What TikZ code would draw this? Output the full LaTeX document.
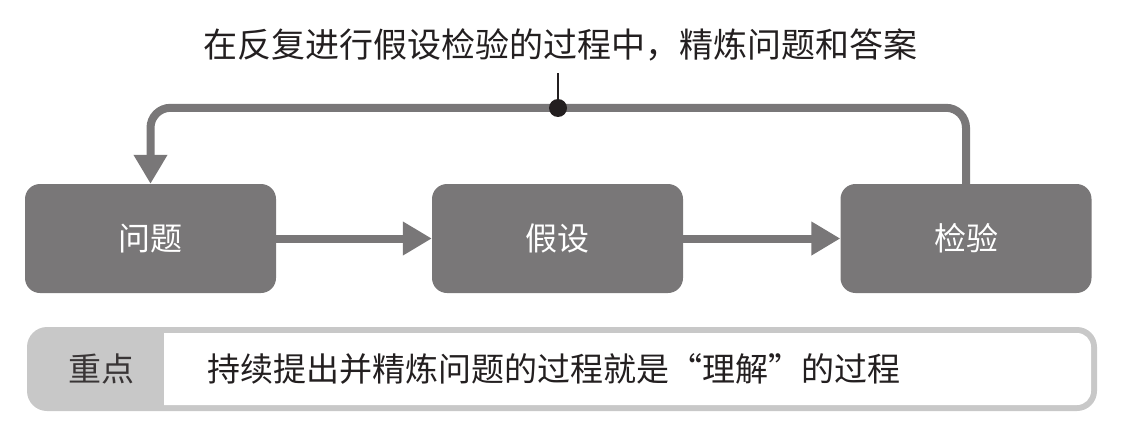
\documentclass[tikz,border=0pt]{standalone}
\usepackage{fontspec}
\setmainfont{Noto Sans CJK SC}
\usetikzlibrary{arrows.meta}
\definecolor{boxgray}{RGB}{121,119,120}
\definecolor{lightgray}{RGB}{200,200,200}
\definecolor{inkdark}{RGB}{35,31,32}
\tikzset{
  stepbox/.style={fill=boxgray,text=white,rounded corners=15pt,minimum width=251pt,minimum height=109pt,inner sep=0pt,font=\fontsize{32}{38}\selectfont},
  flow/.style={boxgray,line width=8pt,-{Triangle[length=29pt,width=32pt]}},
  bigtext/.style={inkdark,inner sep=0pt,font=\fontsize{33}{40}\selectfont}
}
\begin{document}
\begin{tikzpicture}[x=1pt,y=-1pt]
            \useasboundingbox (0,0) rectangle (1123,433);
            \node[stepbox] (wenti) at (150.5,238.5) {问题};
            \node[stepbox] (jiashe) at (557.5,238.5) {假设};
            \node[stepbox] (jianyan) at (966,238.5) {检验};
            \draw[flow] (wenti.east)--(jiashe.west);
            \draw[flow] (jiashe.east)--(jianyan.west);
            \draw[flow,rounded corners=20pt] (jianyan.north)--++(0,-76)-|(wenti.north);
            \node[bigtext,font=\fontsize{34}{40}\selectfont] (note) at (560,45) {在反复进行假设检验的过程中，精炼问题和答案};
            \coordinate (mid) at (558,108);
            \coordinate (tick) at (558,73);
            \draw[inkdark,line width=1.5pt] (mid)--(tick);
            \fill[inkdark] (mid) circle (9pt);
            % bottom bar
            \fill[lightgray,rounded corners=20pt] (27,327) rectangle (1097,411);
            \fill[white,rounded corners=14pt] (140,333) rectangle (1091,405);
            \fill[lightgray] (100,327) rectangle (164,411);
            \node[bigtext,text=inkdark!90] (key) at (101,369) {重点};
            \node[bigtext,anchor=west] (summary) at (207,369) {持续提出并精炼问题的过程就是“理解”的过程};
        \end{tikzpicture}
\end{document}
